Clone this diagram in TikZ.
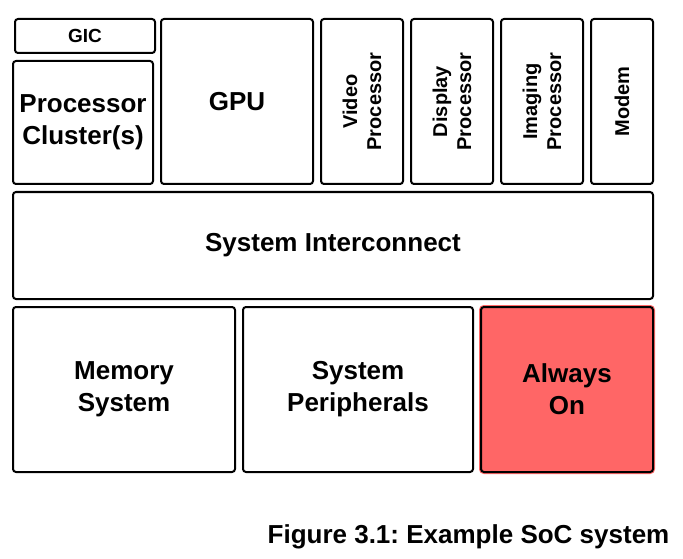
\documentclass[tikz,border=0pt]{standalone}
\usepackage{fontspec}
\setmainfont{Liberation Sans}
\usetikzlibrary{positioning}
\definecolor{aored}{HTML}{FF6666}
\frenchspacing

\begin{document}
\begin{tikzpicture}[x=1pt, y=-1pt, line cap=round]
  \tikzset{blk/.style={draw, line width=2pt, rounded corners=3pt, align=center, inner sep=0pt,
      font=\bfseries\fontsize{26}{32}\selectfont},
    vblk/.style={blk, rotate=90, minimum width=165, minimum height=82,
      font=\bfseries\fontsize{20}{24}\selectfont}}
  \useasboundingbox (0,0) rectangle (683,559);
  % bovenste rij
  \node[blk, minimum width=140, minimum height=34, font=\bfseries\fontsize{19}{22}\selectfont] (gic) at (85,36) {GIC};
  \node[blk, minimum width=140, minimum height=123] (cluster) at (83,122.5) {Processor\\Cluster(s)};
  \node[blk, minimum width=152, minimum height=165] (gpu) at (237,101.5) {GPU};
  \node[vblk] (video) at (362,101.5) {Video\\Processor};
  \node[vblk] (display) at (452,101.5) {Display\\Processor};
  \node[vblk] (imaging) at (542,101.5) {Imaging\\Processor};
  \node[vblk, minimum height=62] (modem) at (622,101.5) {Modem};
  % interconnect
  \node[blk, minimum width=640, minimum height=107] (noc) at (333,245.5) {System Interconnect};
  % onderste rij
  \node[blk, minimum width=222, minimum height=165] (memory) at (124,389.5) {Memory\\System};
  \node[blk, minimum width=230, minimum height=165] (periph) at (358,389.5) {System\\Peripherals};
  \node[blk, minimum width=172, minimum height=165, fill=aored,
    preaction={draw=aored, line width=4pt}] (aon) at (567,389.5) {Always\\On};
  % onderschrift
  \node[font=\bfseries\fontsize{26}{31}\selectfont] (caption) at (468.5,537) {Figure 3.1: Example SoC system};
\end{tikzpicture}
\end{document}
